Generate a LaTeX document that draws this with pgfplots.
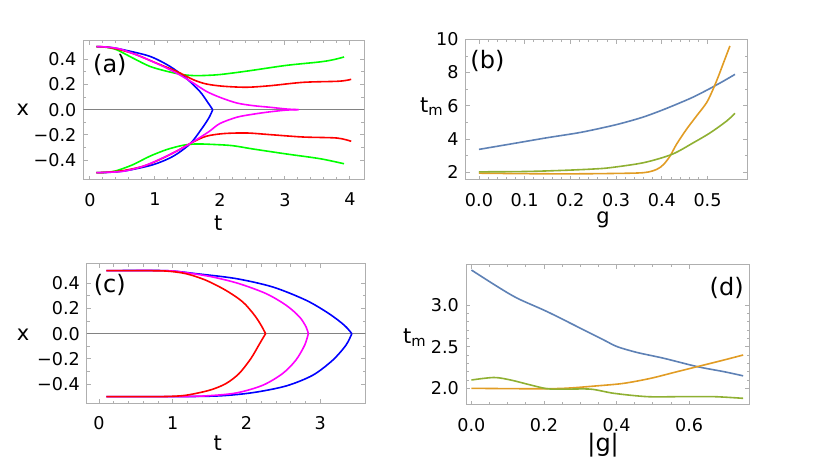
\documentclass[border=0pt]{standalone}
\usepackage{pgfplots}
\pgfplotsset{compat=1.18}
\usepackage{fontspec}
\setmainfont{DejaVu Sans}
\definecolor{mblue}{RGB}{94,129,181}
\definecolor{morange}{RGB}{225,156,36}
\definecolor{mgreen}{RGB}{143,176,50}
\definecolor{pblue}{RGB}{0,0,255}
\definecolor{pred}{RGB}{255,0,0}
\definecolor{pgreen}{RGB}{0,255,0}
\definecolor{pmag}{RGB}{255,0,255}
\definecolor{framegray}{RGB}{175,175,175}
\definecolor{zerogray}{RGB}{130,130,130}
\pgfplotsset{
  mystyle/.style={
    scale only axis,
    anchor=south west,
    axis line style={framegray, line width=0.5pt},
    tick style={framegray, line width=0.4pt},
    major tick length=2.2pt,
    minor tick length=1.3pt,
    tick align=inside,
    tick pos=both,
    ticklabel style={font=\fontsize{8.8}{10}\selectfont, text=black},
    xticklabel style={yshift=-3pt},
    /pgf/number format/assume math mode=true,
    label style={font=\fontsize{10.5}{12}\selectfont, inner sep=0.5pt},
    every axis plot/.append style={line width=0.8pt},
  }
}
\begin{document}
\begin{tikzpicture}
\useasboundingbox (0,0) rectangle (415pt,234.5pt);
% ---------------- (a)
\begin{axis}[mystyle, at={(41.75pt,144.5pt)}, width=140.25pt, height=69.75pt,
  xmin=-0.098, xmax=4.217, ymin=-0.558, ymax=0.549,
  xtick={0,1,2,3,4}, xticklabels={0,1,2,3,4}, minor x tick num=4,
  ytick={-0.4,-0.2,0,0.2,0.4}, yticklabels={−0.4,−0.2,0.0,0.2,0.4}, minor y tick num=1,
  xlabel={t}, ylabel={x},
  xlabel style={at={(axis description cs:0.48,-0.31)}, anchor=center},
  ylabel style={at={(axis description cs:-0.216,0.50)}, anchor=center, rotate=-90}]
\addplot[zerogray, line width=0.7pt] coordinates {(-0.2,0) (4.3,0)};
% blue
\addplot[pblue, smooth] coordinates {(0.1,0.5) (0.3,0.495) (0.51,0.476) (0.92,0.424) (1.23,0.344) (1.48,0.25) (1.69,0.146) (1.82,0.053) (1.89,0)};
\addplot[pblue, smooth] coordinates {(0.1,-0.5) (0.3,-0.497) (0.56,-0.484) (0.97,-0.437) (1.28,-0.37) (1.54,-0.272) (1.71,-0.159) (1.83,-0.066) (1.89,0)};
% green
\addplot[pgreen, smooth] coordinates {(0.1,0.5) (0.25,0.495) (0.41,0.476) (0.66,0.41) (0.92,0.344) (1.18,0.305) (1.43,0.278) (1.64,0.27) (1.94,0.276) (2.2,0.291) (2.51,0.313) (3.03,0.352) (3.54,0.379) (3.75,0.397) (3.91,0.418)};
\addplot[pgreen, smooth] coordinates {(0.1,-0.5) (0.25,-0.497) (0.41,-0.484) (0.66,-0.437) (0.92,-0.37) (1.18,-0.317) (1.43,-0.283) (1.64,-0.272) (1.94,-0.277) (2.2,-0.286) (2.51,-0.312) (3.03,-0.352) (3.54,-0.389) (3.91,-0.429)};
% red
\addplot[pred, smooth] coordinates {(0.1,0.5) (0.25,0.497) (0.46,0.476) (0.71,0.437) (1.02,0.37) (1.33,0.305) (1.59,0.238) (1.79,0.204) (2.05,0.186) (2.41,0.178) (2.77,0.19) (3.28,0.217) (3.8,0.225) (3.95,0.233) (4.02,0.241)};
\addplot[pred, smooth] coordinates {(0.1,-0.5) (0.25,-0.497) (0.51,-0.484) (0.82,-0.449) (1.07,-0.397) (1.33,-0.33) (1.59,-0.256) (1.79,-0.211) (2.05,-0.19) (2.41,-0.185) (2.77,-0.198) (3.28,-0.217) (3.8,-0.225) (4.02,-0.251)};
% magenta
\addplot[pmag, smooth] coordinates {(0.1,0.5) (0.25,0.497) (0.46,0.482) (0.77,0.424) (1.07,0.357) (1.33,0.291) (1.59,0.212) (1.79,0.146) (2.0,0.098) (2.26,0.053) (2.51,0.032) (2.77,0.019) (3.03,0.005) (3.21,0)};
\addplot[pmag, smooth] coordinates {(0.1,-0.5) (0.25,-0.497) (0.51,-0.489) (0.82,-0.449) (1.12,-0.383) (1.38,-0.317) (1.64,-0.238) (1.84,-0.171) (2.0,-0.11) (2.26,-0.06) (2.51,-0.036) (2.77,-0.017) (3.03,-0.003) (3.21,0)};
\node[font=\fontsize{12}{14}\selectfont] at (rel axis cs:0.094,0.824) {(a)};
\end{axis}
% ---------------- (b)
\begin{axis}[mystyle, at={(232.85pt,144.5pt)}, width=140.8pt, height=70.35pt,
  xmin=-0.029, xmax=0.587, ymin=1.54, ymax=10,
  xtick={0,0.1,0.2,0.3,0.4,0.5}, xticklabels={0.0,0.1,0.2,0.3,0.4,0.5}, minor x tick num=4,
  ytick={2,4,6,8,10}, yticklabels={2,4,6,8,10}, minor y tick num=1,
  xlabel={g}, ylabel={t\textsubscript{m}},
  xlabel style={at={(axis description cs:0.488,-0.28)}, anchor=center},
  ylabel style={at={(axis description cs:-0.12,0.52)}, anchor=center, rotate=-90}]
\addplot[mblue, smooth] coordinates {(0,3.38) (0.077,3.74) (0.149,4.08) (0.222,4.4) (0.287,4.78) (0.323,5.03) (0.36,5.33) (0.396,5.69) (0.432,6.09) (0.469,6.53) (0.506,7.05) (0.535,7.49) (0.56,7.89)};
\addplot[morange, smooth] coordinates {(0,1.95) (0.1,1.92) (0.2,1.91) (0.287,1.93) (0.36,1.98) (0.389,2.18) (0.404,2.48) (0.418,2.98) (0.432,3.68) (0.454,4.59) (0.476,5.39) (0.498,6.19) (0.512,6.99) (0.524,7.79) (0.535,8.59) (0.549,9.6)};
\addplot[mgreen, smooth] coordinates {(0,2.03) (0.1,2.05) (0.186,2.12) (0.25,2.2) (0.287,2.28) (0.36,2.58) (0.422,3.08) (0.469,3.78) (0.506,4.38) (0.542,5.09) (0.56,5.55)};
\node[font=\fontsize{12}{14}\selectfont] at (rel axis cs:0.077,0.846) {(b)};
\end{axis}
% ---------------- (c)
\begin{axis}[mystyle, at={(43.5pt,32.65pt)}, width=139.15pt, height=69.85pt,
  xmin=-0.163, xmax=3.613, ymin=-0.556, ymax=0.553,
  xtick={0,1,2,3}, xticklabels={0,1,2,3}, minor x tick num=4,
  ytick={-0.4,-0.2,0,0.2,0.4}, yticklabels={−0.4,−0.2,0.0,0.2,0.4}, minor y tick num=1,
  xlabel={t}, ylabel={x},
  xlabel style={at={(axis description cs:0.47,-0.28)}, anchor=center},
  ylabel style={at={(axis description cs:-0.23,0.49)}, anchor=center, rotate=-90}]
\addplot[zerogray, line width=0.7pt] coordinates {(-0.3,0) (3.7,0)};
\addplot[pblue, smooth] coordinates {(0.1,0.5) (0.9,0.5) (1.32,0.476) (1.86,0.437) (2.36,0.37) (2.81,0.265) (3.12,0.159) (3.33,0.066) (3.43,0)};
\addplot[pblue, smooth] coordinates {(0.1,-0.5) (1.0,-0.5) (1.63,-0.494) (2.09,-0.468) (2.54,-0.415) (2.9,-0.33) (3.17,-0.211) (3.35,-0.092) (3.43,0)};
\addplot[pmag, smooth] coordinates {(0.1,0.5) (0.9,0.5) (1.18,0.484) (1.54,0.45) (1.9,0.397) (2.27,0.317) (2.54,0.225) (2.72,0.133) (2.81,0.053) (2.84,0)};
\addplot[pmag, smooth] coordinates {(0.1,-0.5) (1.0,-0.5) (1.45,-0.494) (1.86,-0.471) (2.22,-0.41) (2.49,-0.317) (2.67,-0.211) (2.79,-0.092) (2.84,0)};
\addplot[pred, smooth] coordinates {(0.1,0.5) (0.6,0.5) (0.91,0.497) (1.18,0.476) (1.45,0.424) (1.72,0.344) (1.95,0.252) (2.11,0.146) (2.2,0.066) (2.26,0)};
\addplot[pred, smooth] coordinates {(0.1,-0.5) (0.6,-0.5) (0.91,-0.499) (1.18,-0.489) (1.5,-0.449) (1.72,-0.397) (1.9,-0.317) (2.06,-0.198) (2.18,-0.079) (2.26,0)};
\node[font=\fontsize{12}{14}\selectfont] at (rel axis cs:0.082,0.85) {(c)};
\end{axis}
% ---------------- (d)
\begin{axis}[mystyle, at={(233pt,32pt)}, width=141.65pt, height=70.35pt,
  xmin=-0.015, xmax=0.766, ymin=1.8, ymax=3.489,
  xtick={0,0.2,0.4,0.6}, xticklabels={0.0,0.2,0.4,0.6}, minor x tick num=3,
  ytick={2,2.5,3}, yticklabels={2.0,2.5,3.0}, minor y tick num=4,
  xlabel={|g|}, ylabel={t\textsubscript{m}},
  xlabel style={at={(axis description cs:0.484,-0.285)}, anchor=center, font=\fontsize{12}{14}\selectfont},
  ylabel style={at={(axis description cs:-0.18,0.48)}, anchor=center, rotate=-90}]
\addplot[mblue, smooth] coordinates {(0,3.42) (0.072,3.22) (0.127,3.08) (0.209,2.92) (0.301,2.72) (0.365,2.58) (0.402,2.5) (0.457,2.43) (0.531,2.36) (0.623,2.26) (0.696,2.2) (0.749,2.15)};
\addplot[morange, smooth] coordinates {(0,2.0) (0.163,1.995) (0.255,2.0) (0.347,2.03) (0.42,2.06) (0.494,2.12) (0.567,2.2) (0.641,2.28) (0.696,2.34) (0.749,2.4)};
\addplot[mgreen, smooth] coordinates {(0,2.1) (0.062,2.13) (0.108,2.1) (0.163,2.04) (0.209,1.995) (0.255,1.99) (0.329,1.99) (0.393,1.94) (0.485,1.9) (0.577,1.9) (0.669,1.9) (0.749,1.88)};
\node[font=\fontsize{12}{14}\selectfont] at (rel axis cs:0.92,0.83) {(d)};
\end{axis}
\end{tikzpicture}
\end{document}
